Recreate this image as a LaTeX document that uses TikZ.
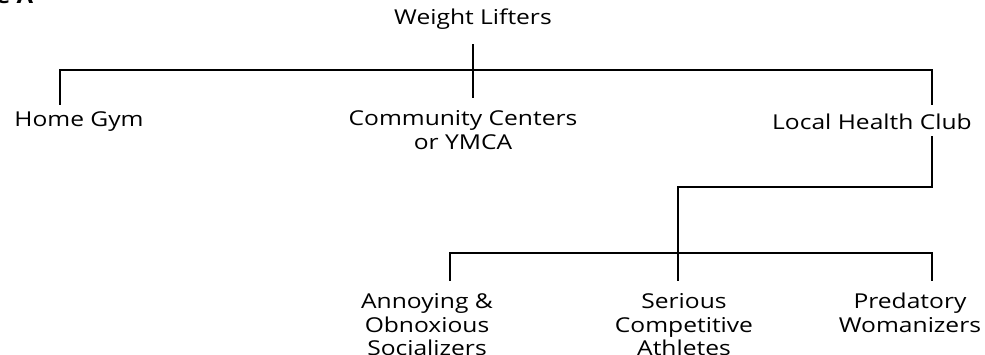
\documentclass[tikz,border=0pt]{standalone}
\usepackage{fontspec}
\setmainfont{Open Sans}[FakeStretch=1.2]
\usetikzlibrary{positioning}
\tikzset{
	branch/.style={
		align=center,
		inner sep=0pt,
		font=\fontsize{20.5}{23.5}\selectfont},
	line/.style={draw, line width=2.6pt, line cap=rect},
	cut/.style={font=\bfseries\fontsize{20}{22}\selectfont, anchor=base west, inner sep=0pt},
}
\begin{document}
\begin{tikzpicture}[x=1pt, y=-1pt]
	\useasboundingbox (0,0) rectangle (985,354);
	\node[cut] (fig) at (-4,3) {e A};
	% top level
	\node[branch] (lifters) at (473,19) {Weight Lifters};
	\node[branch] (home) at (79,122) {Home Gym};
	\node[branch] (community) at (463,130) {Community Centers\\or YMCA};
	\node[branch] (club) at (872,122) {Local Health Club};
	% club level
	\node[branch] (social) at (427,325) {Annoying \&\\Obnoxious\\Socializers};
	\node[branch] (athlete) at (684,325) {Serious\\Competitive\\Athletes};
	\node[branch] (woman) at (910,313) {Predatory\\Womanizers};
	% joints
	\coordinate (lifters-in) at (473,45);
	\coordinate (community-in) at (473,97);
	\coordinate (home-in) at (60,104);
	\coordinate (club-in) at (932,104);
	\coordinate (top-left) at (60,70);
	\coordinate (top-right) at (932,70);
	\coordinate (club-out) at (932,137);
	\coordinate (turn) at (932,187);
	\coordinate (rail) at (678,187);
	\coordinate (social-in) at (450,280);
	\coordinate (athlete-in) at (678,280);
	\coordinate (woman-in) at (932,280);
	\coordinate (low-left) at (450,253);
	\coordinate (low-right) at (932,253);
	% connectors
	\draw[line] (lifters-in) -- (community-in);
	\draw[line] (home-in) -- (top-left) -- (top-right) -- (club-in);
	\draw[line] (club-out) -- (turn) -- (rail) -- (athlete-in);
	\draw[line] (social-in) -- (low-left) -- (low-right) -- (woman-in);
\end{tikzpicture}
\end{document}
